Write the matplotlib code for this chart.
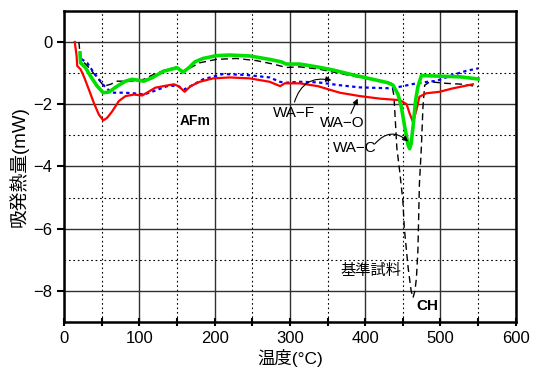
import numpy as np
import matplotlib.pyplot as plt
from matplotlib.ticker import MultipleLocator

plt.rcParams['font.family'] = ['Liberation Sans', 'Noto Sans CJK JP', 'DejaVu Sans']

# 基準試料 (black dashed)
ref_t = [19.5, 21.8, 26, 35, 43.8, 52.7, 61.6, 70.4, 88, 105.8, 119, 132, 150, 158, 166, 180,
         202, 229, 255.5, 277.6, 295, 313, 338, 366, 393, 428, 435, 438, 439, 442, 446, 450,
         452, 457, 461, 463.5, 466, 468, 470, 472, 474.6, 476.7, 479, 486, 508, 530, 550]
ref_q = [0.0, -0.56, -0.65, -0.88, -1.15, -1.42, -1.36, -1.26, -1.26, -1.2, -1.04, -0.92,
         -0.8, -0.95, -0.85, -0.67, -0.56, -0.53, -0.6, -0.71, -0.82, -0.8, -0.87, -1.01,
         -1.14, -1.28, -1.33, -1.71, -2.1, -3.4, -4.2, -5.1, -6.0, -7.25, -8.0, -8.22, -8.0,
         -7.6, -6.7, -4.56, -3.38, -2.09, -1.39, -1.28, -1.33, -1.36, -1.44]

# WA-F (blue dotted)
waf_t = [23, 30.5, 39.4, 48.3, 55, 63.8, 79.3, 92.6, 105.8, 119, 136.8, 150, 159, 168, 184.6,
         211, 242, 273, 286.5, 295, 313, 338, 366, 393, 435, 446, 468, 483, 494.6, 516.6,
         534, 550]
waf_q = [-0.55, -0.67, -0.99, -1.26, -1.47, -1.63, -1.63, -1.65, -1.69, -1.58, -1.42, -1.4,
         -1.53, -1.42, -1.2, -1.03, -1.06, -1.14, -1.28, -1.31, -1.28, -1.3, -1.39, -1.46,
         -1.49, -1.44, -1.33, -1.28, -1.25, -1.06, -0.93, -0.85]

# WA-O (red)
wao_t = [14, 16.5, 17.3, 21.8, 26, 32.8, 39.4, 46, 51.8, 57, 63.8, 72.6, 81.5, 92.6, 103.6,
         110, 121, 132, 145.7, 152, 160, 168, 180, 198, 220, 246.6, 273, 287, 293, 313, 337,
         366, 393, 419, 446, 455, 459, 463.5, 468, 472, 481, 499, 516.6, 543]
wao_q = [0.0, -0.45, -0.77, -0.88, -1.1, -1.53, -1.96, -2.33, -2.52, -2.44, -2.23, -1.9,
         -1.74, -1.69, -1.72, -1.63, -1.47, -1.42, -1.36, -1.42, -1.6, -1.42, -1.28, -1.17,
         -1.14, -1.17, -1.28, -1.42, -1.33, -1.33, -1.42, -1.63, -1.74, -1.82, -1.87, -2.0,
         -2.3, -2.57, -2.19, -1.76, -1.65, -1.6, -1.49, -1.36]

# WA-C (green)
wac_t = [21, 21.8, 28.4, 35, 43.8, 51.8, 59.4, 70.4, 81.5, 90.3, 105.8, 116.9, 132, 150, 158,
         165.6, 173.6, 184.6, 202.4, 220, 246.6, 273, 288.7, 295, 313, 338, 357, 384, 410,
         430, 437, 443.5, 448, 452.5, 457, 459, 461, 463.5, 467, 470, 474.6, 499, 526, 550]
wac_q = [-0.35, -0.67, -0.83, -1.1, -1.42, -1.63, -1.61, -1.42, -1.26, -1.2, -1.26, -1.15,
         -0.94, -0.83, -0.97, -0.83, -0.64, -0.53, -0.44, -0.42, -0.45, -0.56, -0.64, -0.71,
         -0.71, -0.81, -0.9, -1.06, -1.2, -1.31, -1.39, -1.68, -2.09, -2.73, -3.32, -3.43,
         -3.27, -2.73, -1.87, -1.44, -1.08, -1.1, -1.12, -1.19]

fig = plt.figure(figsize=(5.35, 3.74), dpi=100)
ax = fig.add_axes([0.12, 0.139, 0.844, 0.832])

ax.plot(ref_t, ref_q, color='black', lw=1.0, ls=(0, (5, 3)))
ax.plot(waf_t, waf_q, color='blue', lw=1.6, ls=(0, (1.5, 1.5)))
ax.plot(wao_t, wao_q, color='red', lw=1.6)
ax.plot(wac_t, wac_q, color='#00e000', lw=2.6)

ax.set_xlim(0, 600)
ax.set_ylim(-9, 1)
ax.xaxis.set_major_locator(MultipleLocator(100))
ax.xaxis.set_minor_locator(MultipleLocator(50))
ax.yaxis.set_minor_locator(MultipleLocator(1))
ax.set_yticks([0, -2, -4, -6, -8])
ax.grid(which='major', color='#303030', lw=1.0, ls='-')
ax.grid(which='minor', color='black', lw=0.8, ls=(0, (1.5, 2.5)))
ax.tick_params(axis='x', which='both', direction='inout', length=6, width=1.5, labelsize=12)
ax.tick_params(axis='y', which='major', direction='out', length=5, width=1.5, labelsize=12)
ax.tick_params(axis='y', which='minor', length=0)
for s in ax.spines.values():
    s.set_linewidth(1.8)

ax.set_xlabel('温度(°C)', fontsize=12.5, labelpad=2)
ax.set_ylabel('吸発熱量(mW)', fontsize=13.5, labelpad=3)

ax.text(174, -2.55, 'AFm', fontsize=10, fontweight='bold', ha='center', va='center')
ax.text(482, -8.5, 'CH', fontsize=11, fontweight='bold', ha='center', va='center')
ax.text(408, -7.35, '基準試料', fontsize=11, ha='center', va='center')
ax.text(305, -2.29, 'WA−F', fontsize=11, ha='center', va='center')
ax.text(369, -2.61, 'WA−O', fontsize=11, ha='center', va='center')
ax.text(386, -3.41, 'WA−C', fontsize=11, ha='center', va='center')

arrow = dict(arrowstyle='-|>', color='black', lw=0.8, mutation_scale=8, shrinkA=0, shrinkB=0)
ax.annotate('', xy=(355, -1.23), xytext=(306, -1.93),
            arrowprops=dict(arrow, connectionstyle='arc3,rad=-0.45'))
ax.annotate('', xy=(390, -1.82), xytext=(381, -2.3), arrowprops=arrow)
ax.annotate('', xy=(457, -3.2), xytext=(413, -3.27),
            arrowprops=dict(arrow, connectionstyle='arc3,rad=-0.5'))

fig.savefig('out.png', dpi=100)
